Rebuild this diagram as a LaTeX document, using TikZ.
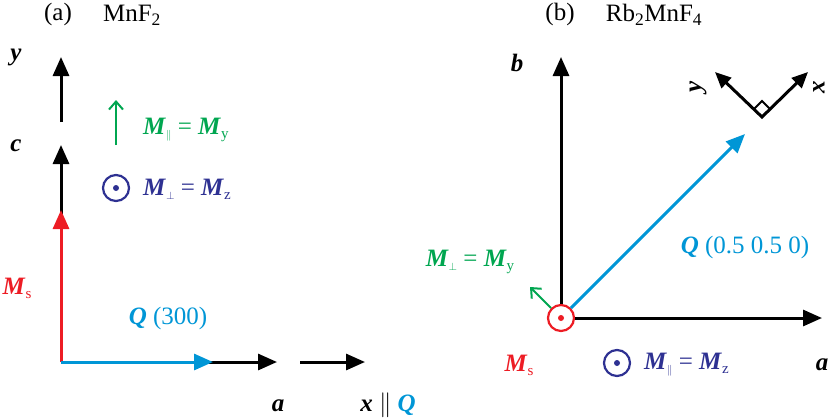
\documentclass[tikz,border=0pt]{standalone}
\usepackage{fontspec}
\setmainfont{Liberation Serif}
\usepackage{tikz}
\usetikzlibrary{arrows.meta}
\definecolor{magRed}{HTML}{ED1C24}
\definecolor{magCyan}{HTML}{0096D6}
\definecolor{magGreen}{HTML}{00A650}
\definecolor{magNavy}{HTML}{2E3192}
\newcommand{\magM}[1]{\textbf{\textit{M}}\raisebox{-0.35ex}{\fontsize{15}{15}\selectfont #1}}
\newcommand{\magV}[1]{\textbf{\textit{#1}}}
\tikzset{
  mag diagram/.style={font=\fontsize{25}{30}\selectfont, line join=miter},
  >={Triangle[length=19pt,width=16pt]},
  mag axis/.style={->, draw=black, line width=3pt},
  mag small/.style={-{Straight Barb[length=8pt,width=14pt]}, line width=2pt},
  mag out/.style={circle, draw=#1, line width=2.2pt, minimum size=26pt,
    inner sep=0pt, path picture={\fill[#1] (path picture bounding box.center) circle (3pt);}},
  mag label/.style={inner sep=1pt},
  mag square/.style={draw=black, line width=2pt}
}
\begin{document}
\begin{tikzpicture}[mag diagram,x=1pt,y=-1pt]
\useasboundingbox (0,0) rectangle (830,418);
\node[mag label] (titleA) at (58,14) {(a)};
\node[mag label] (mnf) at (132,15) {MnF\textsubscript{2}};
\coordinate (oA) at (61,362);
\coordinate (cBase) at (61,210);
\coordinate (cTip) at (61,145);
\coordinate (yBase) at (61,122);
\coordinate (yTip) at (61,57);
\coordinate (aTipA) at (277,362);
\coordinate (qTipA) at (213,362);
\coordinate (xBase) at (300,362);
\coordinate (xTip) at (365,362);
\draw[mag axis] ([yshift=-10pt]cBase) -- (cTip);
\draw[mag axis] (yBase) -- (yTip);
\draw[mag axis] (oA) -- (aTipA);
\draw[mag axis, magRed] (oA) -- (cBase);
\draw[mag axis, magCyan] (oA) -- (qTipA);
\draw[mag axis] (xBase) -- (xTip);
\node[mag label] (yA) at (16,57) {\magV{y}};
\node[mag label] (cA) at (16,146) {\magV{c}};
\coordinate (parBase) at (116,145);
\coordinate (parTip) at (116,100);
\draw[mag small, magGreen] (parBase) -- (parTip);
\node[mag label, text=magGreen, anchor=west] (mparA) at (142,130) {\magM{\(\scriptstyle\parallel\)} = \magM{y}};
\node[mag out=magNavy] (perpA) at (116,188) {};
\node[mag label, text=magNavy, anchor=west] (mperpA) at (142,189) {\magM{\(\scriptstyle\perp\)} = \magM{z}};
\node[mag label, text=magRed] (msA) at (17,288) {\magM{s}};
\node[mag label, text=magCyan] (qA) at (168,318) {\magV{Q} (300)};
\node[mag label] (aA) at (278,406) {\magV{a}};
\node[mag label] (xA) at (388,405) {\magV{x} \(\parallel\) \textcolor{magCyan}{\magV{Q}}};
\node[mag label] (titleB) at (560,14) {(b)};
\node[mag label] (rbmnf) at (654,15) {Rb\textsubscript{2}MnF\textsubscript{4}};
\coordinate (bTip) at (561,57);
\coordinate (aTipB) at (822,318);
\coordinate (qTipB) at (745,134);
\coordinate (perpTip) at (530,287);
\node[mag out=magRed, fill=white] (spinB) at (561,318) {};
\draw[mag axis] (spinB.north) -- (bTip);
\draw[mag axis] (spinB.east) -- (aTipB);
\draw[mag axis, magCyan] (spinB.45) -- (qTipB);
\draw[mag small, magGreen] (spinB.135) -- (perpTip);
\node[mag label] (bB) at (517,63) {\magV{b}};
\node[mag label] (aB) at (822,365) {\magV{a}};
\node[mag label, text=magGreen] (mperpB) at (470,262) {\magM{\(\scriptstyle\perp\)} = \magM{y}};
\node[mag label, text=magCyan] (qB) at (745,247) {\magV{Q} (0.5 0.5 0)};
\node[mag label, text=magRed] (msB) at (519,365) {\magM{s}};
\node[mag out=magNavy] (parB) at (617,363) {};
\node[mag label, text=magNavy, anchor=west] (mparB) at (643,365) {\magM{\(\scriptstyle\parallel\)} = \magM{z}};
\coordinate (corner) at (762,117);
\coordinate (fyTip) at (715,72);
\coordinate (fxTip) at (808,72);
\draw[mag axis, <->, {Triangle[length=16pt,width=14pt]}-{Triangle[length=16pt,width=14pt]}] (fyTip) -- (corner) -- (fxTip);
\draw[mag square] ([shift={(-8,-8)}]corner) -- ([shift={(0,-16)}]corner) -- ([shift={(8,-8)}]corner);
\node[mag label, rotate=90] (yB) at (698,87) {\magV{y}};
\node[mag label, rotate=90] (xB) at (819,87) {\magV{x}};
\end{tikzpicture}
\end{document}
